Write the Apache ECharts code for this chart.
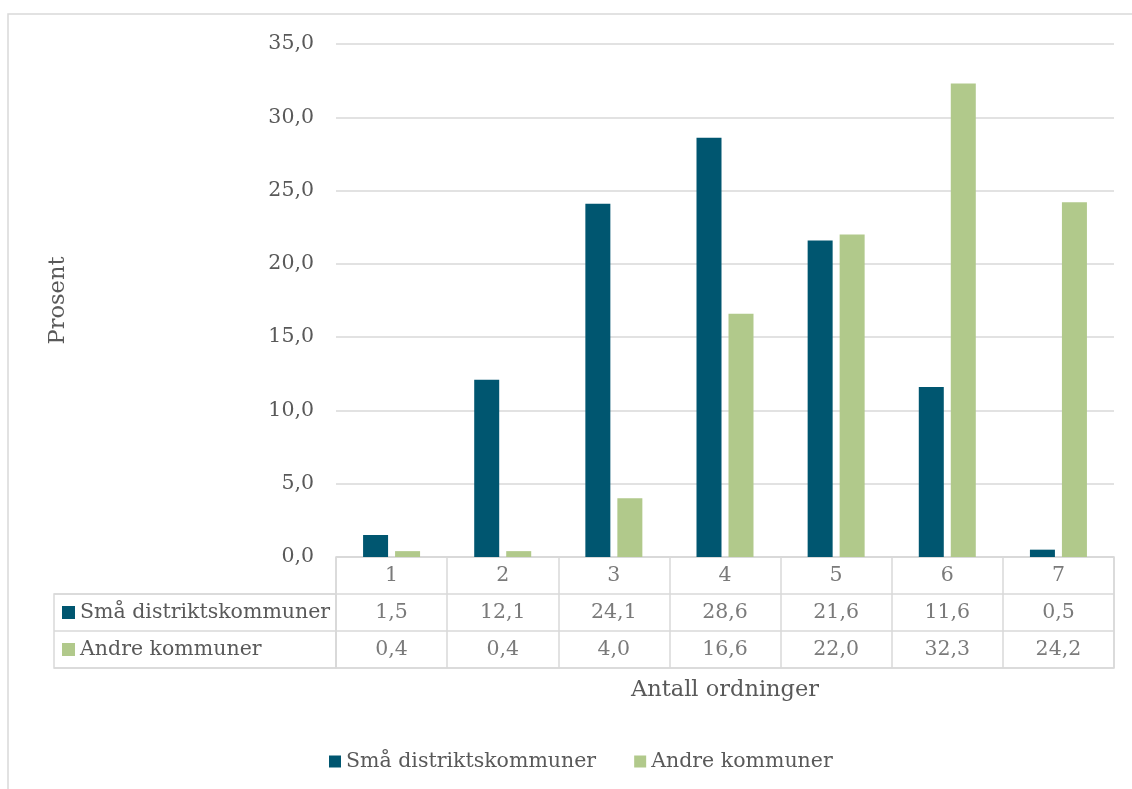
<!DOCTYPE html>
<html>
<head>
<meta charset="utf-8">
<style>
  html, body { margin: 0; padding: 0; background: #fff; }
  #container { width: 1132px; height: 789px; }
</style>
<script src="https://cdn.jsdelivr.net/npm/echarts@6/dist/echarts.min.js"></script>
</head>
<body>
<div id="container"></div>
<script>
let dom = document.getElementById("container");
let myChart = echarts.init(dom);

const categories = ['1', '2', '3', '4', '5', '6', '7'];
const seriesNames = ['Små distriktskommuner', 'Andre kommuner'];
const smaaValues = [1.5, 12.1, 24.1, 28.6, 21.6, 11.6, 0.5];
const andreValues = [0.4, 0.4, 4.0, 16.6, 22.0, 32.3, 24.2];
const colors = ['#005670', '#b1c98b'];

const textColor = '#595959';
const lineColor = '#d9d9d9';
const font = 'DejaVu Serif';
const textSize = 20.5;
const titleSize = 22.5;

function fmt(v) {
    return v.toFixed(1).replace('.', ',');
}

// cells of the data table: [category, row, text]
let tableCells = [];
categories.forEach(function (c, i) {
    tableCells.push([c, 'head', c]);
    tableCells.push([c, 'r1', fmt(smaaValues[i])]);
    tableCells.push([c, 'r2', fmt(andreValues[i])]);
});

let option = {
    animation: false,
    textStyle: {fontFamily: font},
    graphic: [{
        type: 'rect',
        shape: {x: 8, y: 14, width: 1300, height: 1000},
        style: {fill: 'none', stroke: lineColor, lineWidth: 1.5},
        silent: true
    }],
    legend: {
        data: seriesNames,
        left: 324,
        top: 746,
        itemWidth: 12,
        itemHeight: 12,
        itemGap: 38,
        icon: 'rect',
        textStyle: {color: textColor, fontSize: textSize, fontFamily: font}
    },
    grid: [
        {left: 336, right: 18, top: 44, height: 513},
        {left: 336, right: 18, top: 557, height: 111, show: true, borderColor: lineColor, borderWidth: 1.5},
        {left: 54, width: 282, top: 594, height: 74, show: true, borderColor: lineColor, borderWidth: 1.5}
    ],
    xAxis: [
        {
            gridIndex: 0, type: 'category', data: categories,
            axisLine: {show: false}, axisTick: {show: false}, axisLabel: {show: false}
        },
        {
            gridIndex: 1, type: 'category', data: categories,
            axisLine: {show: false}, axisTick: {show: false}, axisLabel: {show: false},
            splitLine: {show: true, lineStyle: {color: lineColor, width: 1.5}},
            name: 'Antall ordninger', nameLocation: 'middle', nameGap: 11,
            nameTextStyle: {color: textColor, fontSize: titleSize, fontFamily: font}
        },
        {
            gridIndex: 2, type: 'value', show: false
        }
    ],
    yAxis: [
        {
            gridIndex: 0, type: 'value', min: 0, max: 35, interval: 5,
            axisLine: {show: false}, axisTick: {show: false},
            axisLabel: {color: textColor, fontSize: textSize, margin: 22, formatter: fmt},
            splitLine: {lineStyle: {color: lineColor, width: 1.5}},
            name: 'Prosent', nameLocation: 'middle', nameRotate: 90, nameGap: 266,
            nameTextStyle: {color: textColor, fontSize: titleSize, fontFamily: font}
        },
        {
            gridIndex: 1, type: 'category', data: ['head', 'r1', 'r2'], inverse: true,
            axisLine: {show: false}, axisTick: {show: false}, axisLabel: {show: false},
            splitLine: {show: true, lineStyle: {color: lineColor, width: 1.5}}
        },
        {
            gridIndex: 2, type: 'category', data: seriesNames, inverse: true,
            axisLine: {show: false}, axisTick: {show: false},
            splitLine: {show: true, lineStyle: {color: lineColor, width: 1.5}},
            axisLabel: {
                inside: true, margin: 8,
                formatter: function (v, i) {
                    return '{m' + i + '|}{t|' + v + '}';
                },
                rich: {
                    m0: {width: 13, height: 13, backgroundColor: colors[0]},
                    m1: {width: 13, height: 13, backgroundColor: colors[1]},
                    t: {color: textColor, fontSize: textSize, fontFamily: font, padding: [0, 0, 0, 5]}
                }
            }
        }
    ],
    series: [
        {
            name: seriesNames[0], type: 'bar', data: smaaValues,
            xAxisIndex: 0, yAxisIndex: 0,
            barWidth: 25, barGap: '28%',
            itemStyle: {color: colors[0]}
        },
        {
            name: seriesNames[1], type: 'bar', data: andreValues,
            xAxisIndex: 0, yAxisIndex: 0,
            barWidth: 25, barGap: '28%',
            itemStyle: {color: colors[1]}
        },
        {
            type: 'scatter', data: tableCells,
            xAxisIndex: 1, yAxisIndex: 1,
            symbolSize: 0, silent: true,
            label: {
                show: true, position: 'inside',
                color: textColor, fontSize: textSize, fontFamily: font,
                formatter: function (p) { return p.value[2]; }
            }
        }
    ]
};

myChart.setOption(option, true);
</script>
</body>
</html>
